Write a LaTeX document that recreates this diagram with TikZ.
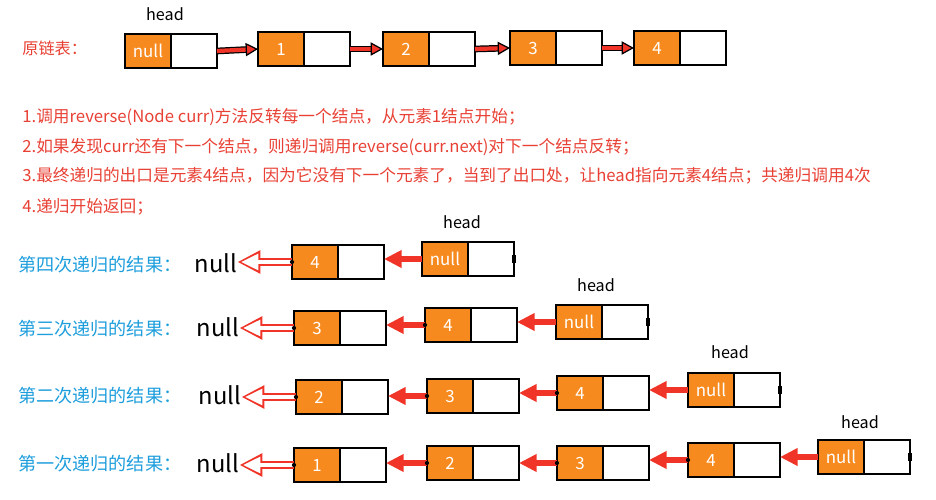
\documentclass[tikz,border=0pt]{standalone}
\usepackage{fontspec}
\usepackage{tikz}
\usetikzlibrary{arrows.meta,positioning}
\newfontfamily\cjk{Noto Sans CJK SC}
\definecolor{node orange}{RGB}{247,138,30}
\definecolor{note red}{RGB}{232,64,52}
\definecolor{arrow red}{RGB}{240,52,40}
\definecolor{label blue}{RGB}{30,158,220}

% one list element: orange data part and white next part
\newcommand{\listnode}[3]{%
	\node[datbox, anchor=north west] (#1) at (#2) {#3};
	\node[nextbox, anchor=west] (#1n) at (#1.east) {};}
\newcommand{\pdot}[1]{\fill (#1) circle (1.2pt);}
\newcommand{\pend}[1]{\fill (#1) ++(-1.2pt,-2.4pt) rectangle ++(2.4pt,4.8pt);}

\begin{document}
\begin{tikzpicture}[x=0.02cm, y=-0.02cm,
		datbox/.style={draw, line width=1.4pt, fill=node orange, text=white,
			minimum width=0.92cm, minimum height=0.68cm, outer sep=0pt, inner sep=0pt,
			font=\cjk\fontsize{9.6}{11}\selectfont},
		nextbox/.style={datbox, fill=white},
		headlbl/.style={inner sep=0pt, font=\cjk\fontsize{9.2}{11}\selectfont},
		note/.style={anchor=west, inner sep=0pt, text=note red, font=\cjk\fontsize{9.5}{11}\selectfont},
		rowlbl/.style={anchor=west, inner sep=0pt, text=label blue, font=\cjk\fontsize{10.3}{12}\selectfont},
		nulllbl/.style={inner sep=0pt, font=\cjk\fontsize{13.5}{15}\selectfont},
		fwd/.style={draw=black, line width=0.7pt, double=arrow red, double distance=2.4pt,
			-{Triangle[length=7pt, width=7.5pt, fill=arrow red]}},
		back/.style={draw=arrow red, line width=3.4pt, -{Triangle[length=10pt, width=9.5pt]}},
		hollow/.style={draw=arrow red, line width=4.6pt, -{Triangle[length=13pt, width=12.5pt]},
			postaction={draw=white, line width=2.8pt, shorten <=0.8pt, shorten >=1.9pt,
				-{Triangle[length=10pt, width=8.8pt]}}}]
	\useasboundingbox (0,0) rectangle (936,500);

	% original list
	\node[note, font=\cjk\fontsize{9.2}{11}\selectfont] (orig) at (22,48) {原链表：};
	\node[headlbl] (hd0) at (165,14) {head};
	\listnode{t0}{125,34}{null}
	\listnode{t1}{258,32}{1}
	\listnode{t2}{383,32}{2}
	\listnode{t3}{510,31}{3}
	\listnode{t4}{634,31}{4}
	\draw[fwd] (t0n.east) -- (t1.west);
	\draw[fwd] (t1n.east) -- (t2.west);
	\draw[fwd] (t2n.east) -- (t3.west);
	\draw[fwd] (t3n.east) -- (t4.west);

	% notes
	\node[note] (n1) at (22,117) {1.调用reverse(Node curr)方法反转每一个结点，从元素1结点开始；};
	\node[note] (n2) at (22,147) {2.如果发现curr还有下一个结点，则递归调用reverse(curr.next)对下一个结点反转；};
	\node[note] (n3) at (22,176) {3.最终递归的出口是元素4结点，因为它没有下一个元素了，当到了出口处，让head指向元素4结点；共递归调用4次};
	\node[note] (n4) at (22,207) {4.递归开始返回；};

	% fourth call
	\node[rowlbl] (l1) at (18,265) {第四次递归的结果：};
	\node[nulllbl] (nl1) at (216,263) {null};
	\node[headlbl] (hd1) at (462,222) {head};
	\listnode{q4}{292,245}{4}
	\listnode{qh}{422,242}{null}
	\draw[hollow] (q4.west) -- (q4.west -| nl1.east);
	\draw[back] (qh.west) -- (qh.west -| q4n.east);
	\pdot{q4.west} \pend{qhn.east}

	% third call
	\node[rowlbl] (l2) at (18,329) {第三次递归的结果：};
	\node[nulllbl] (nl2) at (218,327) {null};
	\node[headlbl] (hd2) at (596,285) {head};
	\listnode{r3}{294,311}{3}
	\listnode{r4}{425,308}{4}
	\listnode{rh}{556,305}{null}
	\draw[hollow] (r3.west) -- (r3.west -| nl2.east);
	\draw[back] (r4.west) -- (r4.west -| r3n.east);
	\draw[back] (rh.west) -- (rh.west -| r4n.east);
	\pdot{r3.west} \pdot{r4.west} \pend{rhn.east}

	% second call
	\node[rowlbl] (l3) at (18,396) {第二次递归的结果：};
	\node[nulllbl] (nl3) at (220,395) {null};
	\node[headlbl] (hd3) at (730,352) {head};
	\listnode{s2}{296,380}{2}
	\listnode{s3}{427,379}{3}
	\listnode{s4}{557,376}{4}
	\listnode{sh}{688,373}{null}
	\draw[hollow] (s2.west) -- (s2.west -| nl3.east);
	\draw[back] (s3.west) -- (s3.west -| s2n.east);
	\draw[back] (s4.west) -- (s4.west -| s3n.east);
	\draw[back] (sh.west) -- (sh.west -| s4n.east);
	\pdot{s2.west} \pdot{s3.west} \pdot{s4.west} \pend{shn.east}

	% first call
	\node[rowlbl] (l4) at (18,464) {第一次递归的结果：};
	\node[nulllbl] (nl4) at (218,463) {null};
	\node[headlbl] (hd4) at (860,422) {head};
	\listnode{u1}{294,448}{1}
	\listnode{u2}{427,446}{2}
	\listnode{u3}{557,446}{3}
	\listnode{u4}{688,443}{4}
	\listnode{uh}{818,440}{null}
	\draw[hollow] (u1.west) -- (u1.west -| nl4.east);
	\draw[back] (u2.west) -- (u2.west -| u1n.east);
	\draw[back] (u3.west) -- (u3.west -| u2n.east);
	\draw[back] (u4.west) -- (u4.west -| u3n.east);
	\draw[back] (uh.west) -- (uh.west -| u4n.east);
	\pdot{u1.west} \pdot{u2.west} \pdot{u3.west} \pdot{u4.west} \pend{uhn.east}
\end{tikzpicture}
\end{document}
